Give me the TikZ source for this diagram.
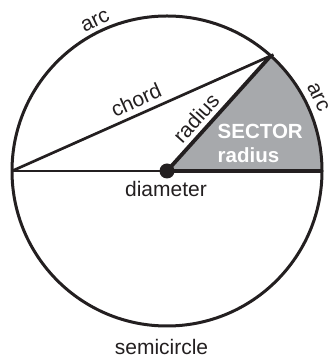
\documentclass[tikz,border=0pt]{standalone}
\usepackage{fontspec}
\setmainfont{Liberation Sans}
\usetikzlibrary{calc}
\definecolor{ink}{RGB}{35,31,32}
\definecolor{sectorgray}{RGB}{167,169,172}
\tikzset{
  lbl/.style={inner sep=0pt, text=ink, font=\fontsize{21}{24}\selectfont},
  wlbl/.style={inner sep=0pt, text=white, anchor=west, font=\fontsize{20.5}{24}\selectfont\bfseries},
  circ/.style={draw=ink, line width=3pt},
  thinln/.style={draw=ink, line width=2.7pt},
  thickln/.style={draw=ink, line width=3.8pt},
}
\begin{document}
\begin{tikzpicture}[x=1pt,y=1pt]
\useasboundingbox (0,0) rectangle (330,358);
\coordinate (O) at (167,187);
\coordinate (L) at ($(O)+(180:155)$);
\coordinate (R) at ($(O)+(0:155)$);
\coordinate (P) at ($(O)+(48:155)$);
% sector
\fill[sectorgray] (O) -- (R) arc[start angle=0,end angle=48,radius=155] -- cycle;
% circle
\draw[circ] (O) circle[radius=155];
% chord
\draw[thinln, shorten >=-3pt] (L) -- (P);
% diameter
\draw[thinln] (L) -- (O);
\draw[thickln] (O) -- (R);
% radius
\draw[thickln] (O) -- (P);
\fill[ink] (O) circle[radius=7.5];
% labels
\node[lbl, rotate=25.6] (arctop) at (95.4,337) {arc};
\node[lbl, rotate=-64.5] (arcright) at (318,261) {arc};
\node[lbl, rotate=24] (chordlbl) at (136,258) {chord};
\node[lbl, rotate=48] (radlbl) at (196,240) {radius};
\node[wlbl] (sector) at (217.5,227) {SECTOR};
\node[wlbl] (secrad) at (217.5,203) {radius};
\node[lbl] (diam) at (166,169) {diameter};
\node[lbl] (semi) at (161.5,11) {semicircle};
\end{tikzpicture}
\end{document}
